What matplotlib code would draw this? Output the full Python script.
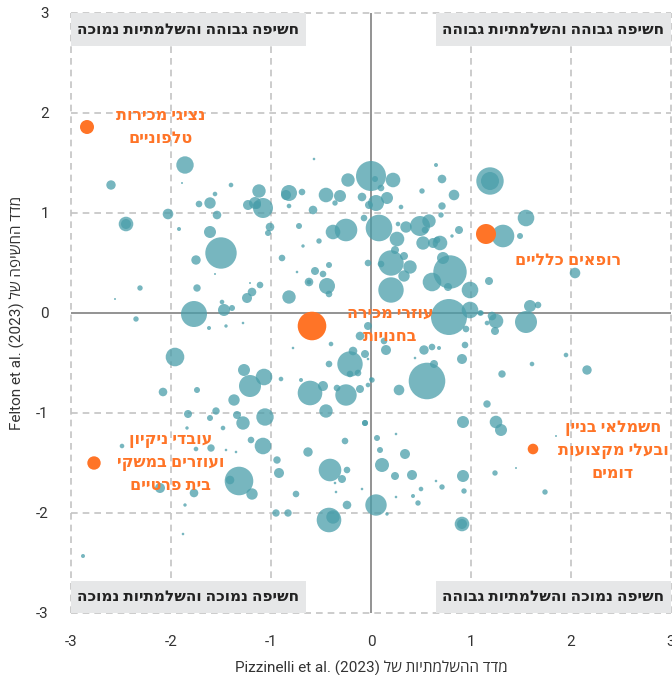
import numpy as np
import matplotlib
matplotlib.use("Agg")
import matplotlib.pyplot as plt
from matplotlib.patches import Rectangle

plt.rcParams['font.family'] = ['Roboto', 'Open Sans', 'DejaVu Sans']

# teal bubbles: x (complementarity), y (exposure), r (bubble radius, px)
bx = [-1.86, -2.60, -1.89, -1.40, -0.57, 0.00, -0.23, -1.12, -0.82, -0.85, -0.69, -0.45, -0.31, -0.09,
      -1.56, -1.61, -1.72, -1.23, -1.16, -1.08, -1.14, -0.82, -0.58, -0.36, -0.02, -1.54, -2.03, -2.45,
      -2.45, -1.92, -1.61, -1.50, -1.01, -1.03, -0.72, -0.25, -0.38, -0.07, -0.52, -1.75, -0.89, -0.68,
      -0.56, -0.42, -0.48, -0.74, -0.03, -0.62, -0.62, -0.44, -0.42, -2.31, -1.74, -1.19, -1.11, -1.24,
      -1.21, -0.82, -1.56, -2.56, -1.49, -1.39, -1.47, -1.77,
      0.22, 0.04, 0.10, 0.65, 0.71, 0.51, 0.83, 1.19, 1.19, 0.16, 0.05, 0.30, 0.71, 0.70, 1.55, 1.32,
      1.49, 0.08, 0.27, 0.35, 0.49, 0.58, 0.54, 0.88, 0.81, 0.26, 0.52, 0.62, 0.69, 0.66, 0.20, 0.24,
      0.33, 0.39, 0.33, 0.10, 0.72, 0.79, 0.61, 0.77, 0.99, 1.18, 0.20, 2.04, 1.59, 1.67, 1.10,
      -2.35, -1.62, -1.45, -1.28, -1.96, -0.78, -0.42, -0.40, -0.11, -0.18, -0.21, -0.06, -0.13, -0.21,
      -1.27, -1.21, -1.07, -0.90, -0.61, -0.48, -0.25, -0.11, -0.03, -0.34, -0.45, -2.08, -1.74, -1.37,
      -1.83, -1.55, -1.61, -1.34, -1.28, -1.06, -0.06, -1.48, -1.84, -1.08, -1.20, -0.26, -0.63, -2.49,
      -1.75, -1.60, -1.45, -1.35, -0.94, -0.41, -0.24, -0.29, -0.92, -1.32, -1.41, -1.19, -1.77, -2.11,
      -0.75, -0.24, -0.42, -0.38, -0.95, -0.83, -1.86, -1.88, -2.88, -0.36, -0.35, -0.09, -0.03, -0.70,
      0.78, 1.25, 1.21, 1.55, 1.24, 1.16, 0.95, 1.09, 0.15, 0.13, 0.53, 0.61, 0.94, 0.91, 0.56, 0.63,
      0.44, 0.28, 0.01, 1.31, 1.61, 1.95, 2.16, 1.16, 0.92, 1.25, 1.30, 0.06, 0.09, 0.25, 0.34, 0.11,
      0.24, 0.41, 0.92, 0.71, 0.65, 0.50, 0.42, 0.47, 0.25, 0.05, 0.16, 1.24, 1.74, 0.91, 0.91, 1.85,
      1.45, -0.03, 0.00, 0.99, 0.93, -0.06, 0.68]
by = [1.48, 1.28, 1.30, 1.28, 1.54, 1.37, 1.33, 1.22, 1.20, 1.18, 1.21, 1.18, 1.17, 1.16,
      1.19, 1.10, 1.09, 1.08, 1.10, 1.05, 1.08, 1.07, 1.03, 1.10, 1.08, 0.98, 0.99, 0.89,
      0.89, 0.84, 0.81, 0.60, 0.86, 0.80, 0.87, 0.83, 0.81, 0.95, 0.72, 0.53, 0.55, 0.67,
      0.42, 0.48, 0.39, 0.41, 0.50, 0.31, 0.31, 0.27, 0.19, 0.25, 0.25, 0.21, 0.28, 0.15,
      0.30, 0.16, 0.39, 0.14, 0.11, 0.05, 0.03, -0.01,
      1.33, 1.34, 1.25, 1.48, 1.34, 1.22, 1.18, 1.32, 1.32, 1.15, 1.10, 1.06, 1.07, 0.98, 0.95, 0.77,
      0.77, 0.85, 0.89, 0.86, 0.87, 0.92, 0.83, 0.83, 0.77, 0.74, 0.70, 0.70, 0.70, 0.73, 0.50, 0.63,
      0.57, 0.46, 0.37, 0.49, 0.55, 0.41, 0.31, 0.26, 0.23, 0.32, 0.23, 0.40, 0.07, 0.08, 0.00,
      -0.06, -0.15, -0.13, -0.10, -0.44, -0.35, -0.51, -0.31, -0.23, -0.38, -0.51, -0.41, -0.60, -0.61,
      -0.57, -0.73, -0.64, -0.66, -0.80, -0.73, -0.82, -0.76, -0.72, -0.75, -0.98, -0.79, -0.77, -0.87,
      -1.01, -0.98, -1.05, -1.02, -1.10, -1.04, -1.10, -1.15, -1.15, -1.33, -1.27, -1.28, -1.39, -1.33,
      -1.36, -1.35, -1.37, -1.39, -1.47, -1.57, -1.57, -1.66, -1.60, -1.68, -1.67, -1.81, -1.80, -1.75,
      -1.81, -1.92, -2.07, -2.04, -2.00, -2.00, -1.92, -2.21, -2.43, -1.70, -1.79, -1.76, -0.46, -0.67,
      -0.04, -0.08, -0.03, -0.09, -0.18, -0.10, -0.16, -0.00, -0.37, -0.28, -0.37, -0.34, -0.32, -0.46,
      -0.68, -0.51, -0.45, -0.77, -0.67, -0.61, -0.51, -0.42, -0.57, -0.91, -1.09, -1.09, -1.17, -1.25,
      -1.37, -1.21, -1.41, -1.52, -1.63, -1.62, -1.63, -1.74, -1.68, -1.76, -1.83, -1.90, -1.84, -1.92,
      -2.01, -1.60, -1.79, -2.11, -2.11, -1.23, -1.55, -0.13, -0.66, 0.03, -1.78, -1.10, -0.35]
br = [8.7, 4.7, 1.0, 2.3, 1.3, 15.0, 6.7, 6.7, 8.0, 5.0, 3.3, 7.3, 6.0, 4.3,
      2.3, 5.7, 3.3, 5.0, 6.0, 10.0, 4.0, 2.3, 4.3, 2.7, 4.0, 4.3, 5.3, 7.3,
      5.0, 2.0, 6.0, 15.7, 4.3, 3.0, 3.0, 11.3, 7.3, 3.3, 2.7, 4.7, 3.3, 1.7,
      4.0, 3.0, 3.3, 1.3, 3.3, 4.3, 2.3, 8.0, 3.3, 2.7, 3.7, 4.3, 3.3, 5.0,
      1.0, 6.7, 1.0, 1.0, 2.3, 3.0, 6.0, 13.0,
      7.3, 3.0, 3.3, 2.0, 4.3, 2.7, 5.3, 13.7, 9.0, 6.0, 8.0, 2.3, 3.7, 2.7, 8.3, 11.3,
      3.0, 13.3, 2.3, 5.7, 10.0, 6.7, 3.3, 4.0, 1.7, 7.3, 6.7, 5.0, 7.3, 3.3, 12.7, 4.0,
      4.0, 6.7, 5.7, 3.3, 6.0, 16.7, 9.3, 4.0, 8.3, 4.0, 12.7, 5.3, 6.0, 3.3, 2.7,
      2.7, 2.0, 1.7, 1.3, 9.3, 1.3, 3.3, 2.3, 4.3, 4.3, 12.7, 4.0, 3.3, 3.3,
      6.0, 11.0, 8.3, 2.3, 12.3, 5.0, 10.7, 4.0, 2.3, 3.3, 6.7, 4.3, 3.0, 5.7,
      4.0, 3.7, 3.0, 4.0, 6.7, 8.7, 3.0, 2.3, 1.7, 8.3, 3.3, 3.3, 4.7, 2.3,
      2.3, 3.7, 1.3, 1.3, 3.7, 11.3, 3.3, 4.0, 5.0, 14.3, 4.3, 5.7, 4.3, 5.0,
      3.3, 4.3, 12.3, 6.7, 3.7, 3.7, 1.7, 1.3, 2.0, 1.3, 1.3, 1.3, 1.3, 2.0,
      18.0, 7.3, 4.3, 11.0, 4.0, 2.3, 3.3, 2.7, 5.0, 3.3, 4.7, 3.3, 3.3, 5.0, 18.3, 4.0,
      1.3, 5.3, 2.7, 3.7, 2.3, 2.3, 4.7, 3.7, 6.0, 6.3, 6.0, 3.0, 3.0, 1.3, 5.0, 7.0,
      4.0, 5.0, 6.0, 2.7, 1.3, 2.3, 2.0, 2.7, 1.3, 10.7, 1.7, 2.7, 2.7, 7.3, 5.0, 1.0,
      1.0, 4.0, 1.7, 8.3, 2.7, 3.0, 2.0]

# highlighted occupations
ox = [-2.84, 1.15, -0.59, -2.77, 1.62]
oy = [1.86, 0.79, -0.13, -1.50, -1.36]
orr = [7.0, 10.0, 14.3, 6.7, 5.3]
olabels = ["נציגי מכירות\nטלפוניים", "רופאים כלליים", "עוזרי מכירה\nבחנויות",
           "עובדי ניקיון\nועוזרים במשקי\nבית פרטיים", "חשמלאי בניין\nובעלי מקצועות\nדומים"]
lx = [-2.10, 1.975, 0.19, -2.00, 2.42]
ly = [1.855, 0.52, -0.12, -1.50, -1.38]

corner_labels = ["חשיפה גבוהה והשלמתיות נמוכה", "חשיפה גבוהה והשלמתיות גבוהה",
                 "חשיפה נמוכה והשלמתיות נמוכה", "חשיפה נמוכה והשלמתיות גבוהה"]
ticks = [-3, -2, -1, 0, 1, 2, 3]


def vis(s):
    # hebrew: reverse each line into visual order
    return "\n".join(line[::-1] for line in s.split("\n"))


def sz(r):
    return (np.array(r) * 2 * 0.72) ** 2


fig = plt.figure(figsize=(6.72, 6.75), dpi=100)
ax = fig.add_axes([71 / 672, 62 / 675, 600 / 672, 600 / 675])
ax.set_xlim(-3, 3)
ax.set_ylim(-3, 3)

for t in ticks:
    if t == 0:
        ax.axvline(t, color='#8a8a8a', lw=1.3, zorder=1)
        ax.axhline(t, color='#8a8a8a', lw=1.3, zorder=1)
    else:
        ax.axvline(t, color='#c4c4c4', lw=1.2, ls=(0, (4, 3)), zorder=1, clip_on=False)
        ax.axhline(t, color='#c4c4c4', lw=1.2, ls=(0, (4, 3)), zorder=1, clip_on=False)

ax.scatter(bx, by, s=sz(br), color='#4a9eaa', alpha=0.75, linewidths=0, zorder=2)
ax.scatter(ox, oy, s=sz(orr), color='#ff7427', linewidths=0, zorder=3)

heb = ['Open Sans', 'DejaVu Sans']
for lab, x, y in zip(olabels, lx, ly):
    ax.text(x, y, vis(lab), color='#ff7427', fontsize=11.5, fontweight='bold', ha='center',
            va='center', linespacing=1.6, family=heb, zorder=4)

boxes = [(-3, 2.675), (0.65, 2.675), (-3, -3), (0.65, -3)]
for lab, (x0, y0) in zip(corner_labels, boxes):
    ax.add_patch(Rectangle((x0, y0), 2.35, 0.325, facecolor='#e6e7e8', edgecolor='none', zorder=5))
    ax.text(x0 + 1.175, y0 + 0.16, vis(lab), color='#222222', fontsize=11, fontweight='bold',
            ha='center', va='center', family=heb, zorder=6)

for sp in ax.spines.values():
    sp.set_visible(False)
ax.set_xticks(ticks)
ax.set_yticks(ticks)
ax.set_xticklabels([str(t) for t in ticks])
ax.set_yticklabels([str(t) for t in ticks])
ax.tick_params(length=0, labelsize=11, colors='#333333', pad=16)

ax.set_xlabel("Pizzinelli et al. (2023) " + vis("מדד ההשלמתיות של"), fontsize=11, color='#333333',
              family=['Roboto', 'Open Sans', 'DejaVu Sans'], labelpad=8)
ax.set_ylabel("Felton et al. (2023) " + vis("מדד החשיפה של"), fontsize=11, color='#333333',
              family=['Roboto', 'Open Sans', 'DejaVu Sans'], labelpad=8)

fig.savefig("out.png", dpi=100)
